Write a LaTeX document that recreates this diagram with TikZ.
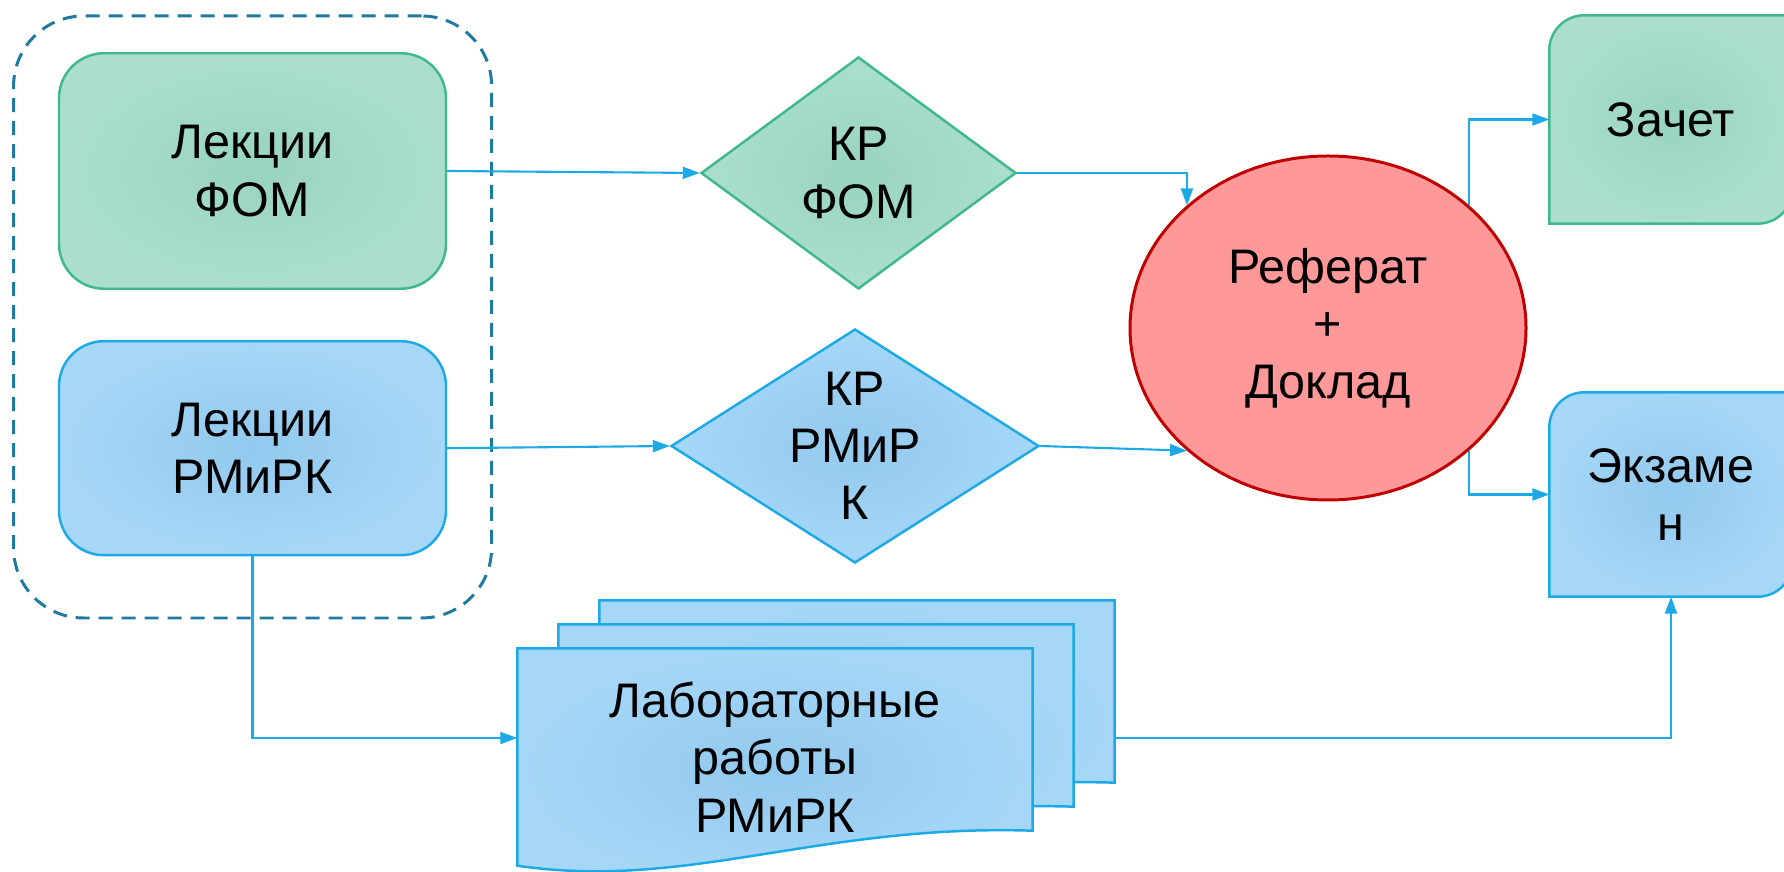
\documentclass[tikz,border=0pt]{standalone}
\usepackage{fontspec}
\setmainfont{Liberation Sans}
\usetikzlibrary{positioning,shapes,arrows.meta,backgrounds}

\definecolor{greenline}{RGB}{62,184,140}
\definecolor{greenin}{RGB}{152,212,190}
\definecolor{greenout}{RGB}{171,223,204}
\definecolor{blueline}{RGB}{29,169,230}
\definecolor{bluein}{RGB}{146,201,238}
\definecolor{blueout}{RGB}{166,215,247}
\definecolor{groupline}{RGB}{30,122,158}
\definecolor{redfill}{RGB}{255,153,153}
\definecolor{redline}{RGB}{192,0,0}

\tikzstyle{greenfill} = [draw=greenline, line width=0.7pt, inner color=greenin, outer color=greenout]
\tikzstyle{bluefill} = [draw=blueline, line width=0.7pt, inner color=bluein, outer color=blueout]
\tikzstyle{groupbox} = [rectangle, rounded corners=0.7cm, draw=groupline, line width=0.85pt, dash pattern=on 0.14cm off 0.09cm]
\tikzstyle{lecture} = [rectangle, rounded corners=0.45cm, minimum width=3.87cm, text centered, align=center]
\tikzstyle{test} = [diamond, inner sep=0pt]
\tikzstyle{final} = [rectangle, minimum width=2.42cm, align=center]
\tikzstyle{labwork} = [rectangle, minimum width=5.14cm, minimum height=2.16cm, align=center]
\tikzstyle{connect} = [draw=blueline, line width=0.6pt, -{Triangle[length=0.17cm,width=0.12cm]}]

% rounded top left and bottom right corner
\newcommand{\finalshape}[2]{\path[#2] (#1.south west) -- ([yshift=-0.35cm]#1.north west) arc[start angle=180, end angle=90, radius=0.35cm] -- (#1.north east) -- ([yshift=0.35cm]#1.south east) arc[start angle=0, end angle=-90, radius=0.35cm] -- cycle;}
% sheet with a wavy lower edge
\newcommand{\docshape}[2]{\path[#2] (#1.north west) -- (#1.north east) -- ([yshift=0.35cm]#1.south east) .. controls ([xshift=-2.14cm,yshift=0.42cm]#1.south east) and ([xshift=1.7cm,yshift=-0.25cm]#1.south west) .. (#1.south west) -- cycle;}

\begin{document}
\begin{tikzpicture}[font=\fontsize{13.8}{16.3}\selectfont]
			\useasboundingbox (0,0) rectangle (17.84,8.72);
			\node (group) [groupbox, minimum width=4.78cm, minimum height=6.02cm] at (2.526,5.55) {};
			\node (lecfom) [lecture, greenfill, minimum height=2.355cm] at (2.525,7.01) {Лекции\\ФОМ};
			\node (lecrmirk) [lecture, bluefill, minimum height=2.14cm, below=0.5cm of lecfom] {Лекции\\РМиРК};
			%-----------------------------------------------
			\node (krfom) [test, greenfill, minimum width=3.15cm, minimum height=2.32cm, label={[align=center]center:КР\\ФОМ}] at (8.585,6.99) {};
			\node (krrmirk) [test, bluefill, minimum width=3.68cm, minimum height=2.34cm, label={[align=center]center:КР\\РМиР\\К}] at (8.55,4.26) {};
			%-----------------------------------------------
			\node (referat) [ellipse, draw=redline, line width=0.85pt, fill=redfill, minimum width=3.96cm, minimum height=3.44cm, align=center] at (13.28,5.44) {Реферат\\+\\Доклад};
			%-----------------------------------------------
			\node (zachet) [final, minimum height=2.07cm] at (16.71,7.525) {Зачет};
			\node (ekzamen) [final, minimum height=2.03cm] at (16.71,3.775) {Экзаме\\н};
			%-----------------------------------------------
			\node (labfront) [labwork] at (7.75,1.15) {Лабораторные\\работы\\РМиРК};
			\node (labmid) [labwork] at ([xshift=0.41cm,yshift=0.24cm]labfront.center) {};
			\node (labback) [labwork] at ([xshift=0.82cm,yshift=0.48cm]labfront.center) {};
			
			\begin{scope}[on background layer]
			\docshape{labback}{bluefill}
			\docshape{labmid}{bluefill}
			\docshape{labfront}{bluefill}
			\finalshape{zachet}{greenfill}
			\finalshape{ekzamen}{bluefill}
			\end{scope}
			
			%-----------------------------------------------
			%-----------------------------------------------
			
			\draw [connect] (lecfom.east) -- (krfom.west);
			\draw [connect] (lecrmirk.east) -- (krrmirk.west);
			\draw [connect] (krfom.east) -| (referat.north west);
			\draw [connect] (krrmirk.east) -- (referat.south west);
			\draw [connect] (referat.north east) |- (zachet.west);
			\draw [connect] (referat.south east) |- (ekzamen.west);
			\coordinate (labin) at ([yshift=0.19cm]labfront.west);
			\draw [connect] (lecrmirk.south) |- (labin);
			\draw [connect] (labback.east |- labin) -| (ekzamen.south);
\end{tikzpicture}
\end{document}
